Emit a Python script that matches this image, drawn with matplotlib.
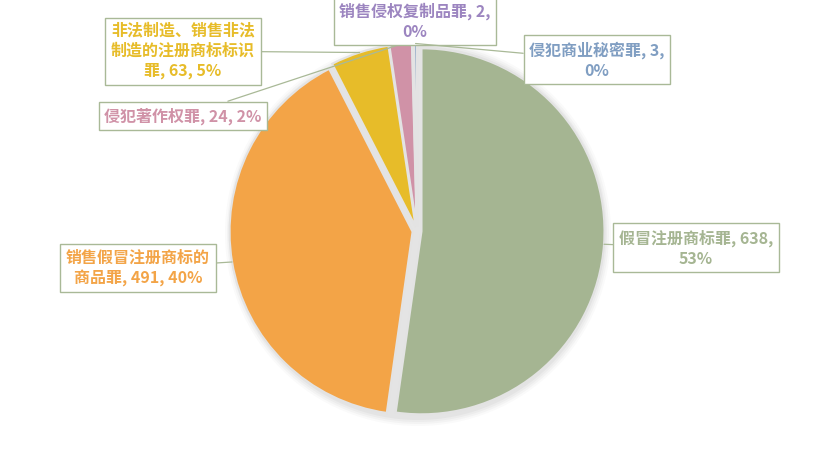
import matplotlib

matplotlib.use("Agg")
import matplotlib.pyplot as plt
import numpy as np

plt.rcParams["font.family"] = ["Noto Sans CJK SC", "DejaVu Sans"]

# 数据（顺时针，从12点钟方向开始）
names = ["假冒注册商标罪", "销售假冒注册商标的商品罪", "非法制造、销售非法制造的注册商标标识罪",
         "侵犯著作权罪", "销售侵权复制品罪", "侵犯商业秘密罪"]
counts = [638, 491, 63, 24, 2, 3]
pct_labels = ["53%", "40%", "5%", "2%", "0%", "0%"]
colors = ["#A5B592", "#F3A447", "#E7BC29", "#D092A7", "#9C85C0", "#809EC2"]

# 标签文字（按原图断行）
label_texts = [
    "假冒注册商标罪, 638,\n53%",
    "销售假冒注册商标的\n商品罪, 491, 40%",
    "非法制造、销售非法\n制造的注册商标标识\n罪, 63, 5%",
    "侵犯著作权罪, 24, 2%",
    "销售侵权复制品罪, 2,\n0%",
    "侵犯商业秘密罪, 3,\n0%",
]
# 标签框中心（像素坐标，原点左上）
label_pos = [(696, 248), (138, 268), (183, 51), (183, 116), (415, 21), (597, 60)]

W, H = 835, 450
cx, cy, R = 417, H - 231, 183

fig = plt.figure(figsize=(W / 100, H / 100), dpi=100)
ax = fig.add_axes([0, 0, 1, 1])

# 柔和阴影
for k, a in enumerate([0.04, 0.05, 0.06, 0.07]):
    ax.add_patch(plt.Circle((cx + 1, cy - 2), R + 10 - 2 * k, color="#808080",
                            alpha=a, lw=0, zorder=0))

# explode 以数据单位（像素）计
wedges, _ = ax.pie(counts, colors=colors, startangle=90, counterclock=False,
                   center=(cx, cy), radius=R, explode=[4.5] * len(counts),
                   wedgeprops=dict(edgecolor="#E3E3E3", linewidth=1.5),
                   frame=True)
ax.set_xlim(0, W)
ax.set_ylim(0, H)
ax.set_aspect("equal")
ax.axis("off")

edge_col = "#A9B997"
for w, txt, (px, py), col in zip(wedges, label_texts, label_pos, colors):
    mid = np.deg2rad((w.theta1 + w.theta2) / 2)
    wx, wy = w.center
    ex = wx + w.r * np.cos(mid)
    ey = wy + w.r * np.sin(mid)
    ax.annotate(txt, xy=(ex, ey), xytext=(px, H - py), ha="center", va="center",
                fontsize=11.5, fontweight="bold", color=col, linespacing=1.3,
                bbox=dict(boxstyle="square,pad=0.35", fc="white", ec=edge_col, lw=1),
                arrowprops=dict(arrowstyle="-", color=edge_col, lw=0.9,
                                shrinkA=0, shrinkB=0),
                zorder=5)

fig.savefig("out.png", dpi=100)
